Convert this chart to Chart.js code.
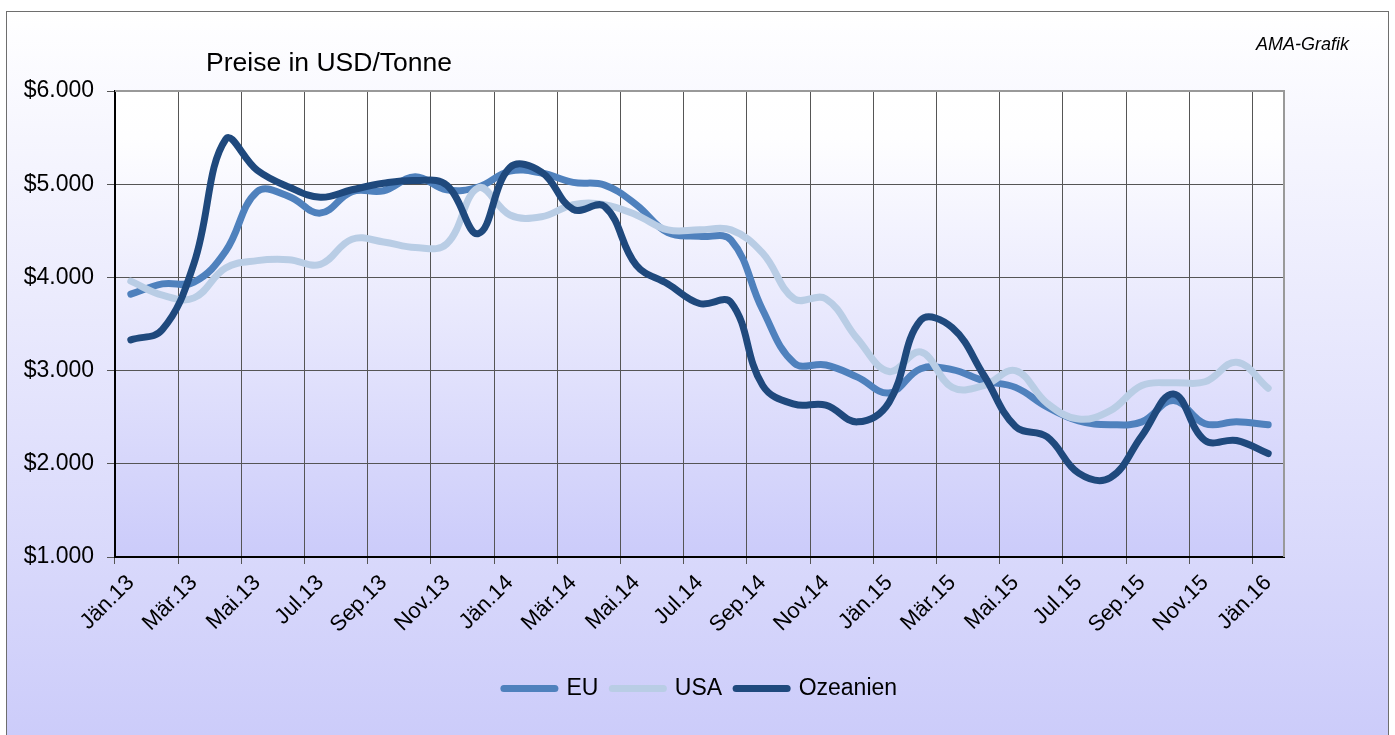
<!DOCTYPE html>
<html>
<head>
<meta charset="utf-8">
<script src="https://cdn.jsdelivr.net/npm/chart.js@4.4.0/dist/chart.umd.min.js"></script>
<style>
html, body { margin: 0; padding: 0; background: #fff; }
#wrap { width: 1395px; height: 735px; position: relative; }
</style>
</head>
<body>
<div id="wrap"><canvas id="priceChart"></canvas></div>
<script>
// months Jän.13 .. Jän.16
const months = [
  "Jän.13", "Feb.13", "Mär.13", "Apr.13", "Mai.13", "Jun.13", "Jul.13", "Aug.13", "Sep.13", "Okt.13", "Nov.13", "Dez.13",
  "Jän.14", "Feb.14", "Mär.14", "Apr.14", "Mai.14", "Jun.14", "Jul.14", "Aug.14", "Sep.14", "Okt.14", "Nov.14", "Dez.14",
  "Jän.15", "Feb.15", "Mär.15", "Apr.15", "Mai.15", "Jun.15", "Jul.15", "Aug.15", "Sep.15", "Okt.15", "Nov.15", "Dez.15",
  "Jän.16"
];
const euPrices = [
  3820, 3930, 3950, 4280, 4920, 4870, 4690, 4920, 4930, 5080, 4940, 4970,
  5140, 5120, 5020, 4990, 4780, 4480, 4440, 4400, 3650, 3080, 3060, 2930,
  2760, 3020, 3010, 2890, 2820, 2610, 2460, 2420, 2450, 2680, 2430, 2450,
  2420
];
const usaPrices = [
  3960, 3810, 3780, 4100, 4180, 4190, 4140, 4410, 4380, 4320, 4360, 4960,
  4670, 4650, 4780, 4780, 4670, 4510, 4510, 4510, 4260, 3770, 3770, 3340,
  2990, 3200, 2820, 2840, 3000, 2650, 2480, 2570, 2840, 2870, 2880, 3090,
  2810
];
const ozPrices = [
  3330, 3440, 4150, 5480, 5150, 4970, 4860, 4940, 5010, 5040, 4990, 4470,
  5180, 5130, 4730, 4760, 4130, 3930, 3720, 3730, 2840, 2640, 2630, 2450,
  2660, 3540, 3460, 2950, 2400, 2290, 1900, 1850, 2300, 2750, 2250, 2250,
  2110
];
const yTicks = [1000, 2000, 3000, 4000, 5000, 6000];

const fontFamily = '"Liberation Sans", Arial, sans-serif';

// fmt 6000 -> $6.000
function dollar(v) {
  return "$" + Math.floor(v / 1000) + "." + String(v % 1000).padStart(3, "0");
}

// background, frame, captions
const decoPlugin = {
  id: "deco",
  beforeDraw(chart) {
    const c = chart.ctx;
    const a = chart.chartArea;
    c.save();
    c.fillStyle = "#fff";
    c.fillRect(0, 0, chart.width, chart.height);

    let g = c.createLinearGradient(0, 11, 0, 735);
    g.addColorStop(0, "#ffffff");
    g.addColorStop(1, "#ccccfa");
    c.fillStyle = g;
    c.fillRect(6, 11, 1382, 730);
    c.strokeStyle = "#6e6e6e";
    c.lineWidth = 1;
    c.strokeRect(6.5, 11.5, 1382, 740);

    g = c.createLinearGradient(0, a.top, 0, a.bottom);
    g.addColorStop(0, "#ffffff");
    g.addColorStop(0.1, "#fefeff");
    g.addColorStop(1, "#cbcbfa");
    c.fillStyle = g;
    c.fillRect(a.left, a.top, a.right - a.left, a.bottom - a.top);

    c.fillStyle = "#000";
    c.font = "26.5px " + fontFamily;
    c.textBaseline = "alphabetic";
    c.fillText("Preise in USD/Tonne", 206, 71);
    c.font = "italic 18px " + fontFamily;
    c.fillText("AMA-Grafik", 1256, 50);
    c.restore();
  },
  afterDraw(chart) {
    const c = chart.ctx;
    const a = chart.chartArea;
    c.save();
    c.strokeStyle = "#999";
    c.lineWidth = 2;
    c.beginPath();
    c.moveTo(a.left, a.top);
    c.lineTo(a.right, a.top);
    c.lineTo(a.right, a.bottom);
    c.stroke();
    c.restore();
  }
};

const gridCol = function (ctx) {
  return ctx.index % 2 === 0 ? "#555" : "rgba(0,0,0,0)";
};

const ctx = document.getElementById("priceChart").getContext("2d");
new Chart(ctx, {
  type: "line",
  data: {
    labels: months,
    datasets: [
      { label: "EU", data: euPrices, borderColor: "#4f81bd", backgroundColor: "#4f81bd", order: 3 },
      { label: "USA", data: usaPrices, borderColor: "#b9cde5", backgroundColor: "#b9cde5", order: 2 },
      { label: "Ozeanien", data: ozPrices, borderColor: "#1f497d", backgroundColor: "#1f497d", order: 1 }
    ]
  },
  options: {
    responsive: true,
    maintainAspectRatio: false,
    animation: false,
    layout: { padding: { left: 6, right: 0, top: 91, bottom: 25 } },
    elements: {
      line: { borderWidth: 7, tension: 0.4, borderCapStyle: "round", borderJoinStyle: "round", fill: false },
      point: { radius: 0, hoverRadius: 0 }
    },
    plugins: {
      tooltip: { enabled: false },
      title: { display: false },
      legend: {
        position: "bottom",
        labels: {
          usePointStyle: true,
          pointStyle: "line",
          pointStyleWidth: 51,
          boxHeight: 7,
          padding: 14,
          color: "#000",
          font: { size: 23, family: fontFamily },
          sort: (a, b) => a.datasetIndex - b.datasetIndex,
          generateLabels: chart => Chart.defaults.plugins.legend.labels.generateLabels(chart).map(item => {
            item.lineWidth = 7;
            item.lineCap = "round";
            item.strokeStyle = chart.data.datasets[item.datasetIndex].borderColor;
            return item;
          })
        }
      }
    },
    scales: {
      x: {
        offset: true,
        grid: { offset: true, color: gridCol, tickColor: gridCol, tickLength: 7, lineWidth: 1 },
        border: { color: "#000", width: 2 },
        ticks: {
          autoSkip: false,
          maxRotation: 45,
          minRotation: 45,
          padding: 6,
          color: "#000",
          font: { size: 22, family: fontFamily },
          callback: function (v, i) { return i % 2 === 0 ? this.getLabelForValue(v) : ""; }
        },
        afterFit: s => { s.height = 106; }
      },
      y: {
        min: yTicks[0],
        max: yTicks[yTicks.length - 1],
        afterBuildTicks: s => { s.ticks = yTicks.map(v => ({ value: v })); },
        grid: { color: "#555", tickColor: "#555", tickLength: 8 },
        border: { color: "#000", width: 2 },
        ticks: {
          padding: 13,
          color: "#000",
          font: { size: 23, family: fontFamily },
          callback: v => dollar(v)
        },
        afterFit: s => { s.width = 109; }
      },
      // empty right-hand space so the legend centres on the whole frame
      yRight: {
        position: "right",
        display: true,
        grid: { display: false },
        border: { display: false },
        ticks: { display: false },
        afterFit: s => { s.width = 111; }
      }
    }
  },
  plugins: [decoPlugin]
});
</script>
</body>
</html>
